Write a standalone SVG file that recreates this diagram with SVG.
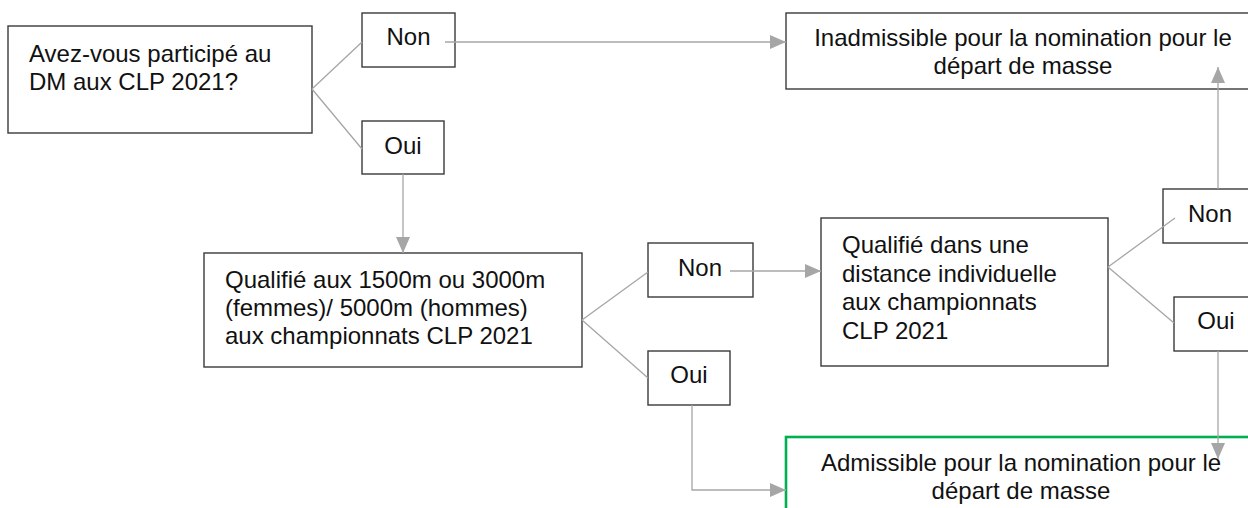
<svg xmlns="http://www.w3.org/2000/svg" width="1248" height="508" viewBox="0 0 1248 508">
<style>
.box{fill:#fff;stroke:#3a3a3a;stroke-width:1.4}
.ok{fill:#fff;stroke:#00b050;stroke-width:2.6}
.t{font-family:"Liberation Sans",Arial,sans-serif;font-size:24px;fill:#111}
.c{text-anchor:middle}
.ln{fill:none;stroke:#a6a6a6;stroke-width:1.3}
</style>
<defs>
<marker id="ar" markerUnits="userSpaceOnUse" markerWidth="16" markerHeight="14" refX="16" refY="7" orient="auto">
<path d="M0,0 L16,7 L0,14 z" fill="#a6a6a6"/>
</marker>
</defs>
<g id="q1"><rect class="box" x="8" y="26" width="304" height="107"/>
<text class="t" x="29" y="62">Avez-vous participé au</text>
<text class="t" x="29" y="90">DM aux CLP 2021?</text></g>
<g id="non1"><rect class="box" x="362" y="13" width="93" height="54"/>
<text class="t c" x="408.5" y="45">Non</text></g>
<g id="oui1"><rect class="box" x="362" y="121" width="82" height="53"/>
<text class="t c" x="403" y="154">Oui</text></g>
<g id="inadm"><rect class="box" x="786" y="13" width="474" height="76"/>
<text class="t c" x="1023" y="46">Inadmissible pour la nomination pour le</text>
<text class="t c" x="1023" y="74">départ de masse</text></g>
<g id="q2"><rect class="box" x="204" y="253" width="378" height="114"/>
<text class="t" x="225" y="288">Qualifié aux 1500m ou 3000m</text>
<text class="t" x="225" y="316">(femmes)/ 5000m (hommes)</text>
<text class="t" x="225" y="344">aux championnats CLP 2021</text></g>
<g id="non2"><rect class="box" x="648" y="243" width="105" height="54"/>
<text class="t c" x="700" y="276">Non</text></g>
<g id="oui2"><rect class="box" x="648" y="351" width="82" height="54"/>
<text class="t c" x="689" y="383">Oui</text></g>
<g id="q3"><rect class="box" x="821" y="218" width="287" height="148"/>
<text class="t" x="842" y="253">Qualifié dans une</text>
<text class="t" x="842" y="282">distance individuelle</text>
<text class="t" x="842" y="310">aux championnats</text>
<text class="t" x="842" y="339">CLP 2021</text></g>
<g id="non3"><rect class="box" x="1163" y="189" width="95" height="54"/>
<text class="t c" x="1210" y="222">Non</text></g>
<g id="oui3"><rect class="box" x="1174" y="297" width="82" height="54"/>
<text class="t c" x="1216" y="329">Oui</text></g>
<g id="adm"><rect class="ok" x="786" y="437" width="474" height="100"/>
<text class="t c" x="1021" y="471">Admissible pour la nomination pour le</text>
<text class="t c" x="1021" y="499">départ de masse</text></g>
<g id="connectors">
<path class="ln" d="M312,89 L362,42 M312,89 L362,149"/>
<path class="ln" d="M582,320 L648,272 M582,320 L648,378"/>
<path class="ln" d="M1108,267 L1175,218 M1108,267 L1174,323"/>
<path class="ln" d="M445,42 H786" marker-end="url(#ar)"/>
<path class="ln" d="M403,174 V253" marker-end="url(#ar)"/>
<path class="ln" d="M730,271 H821" marker-end="url(#ar)"/>
<path class="ln" d="M692,405 V490 H786" marker-end="url(#ar)"/>
<path class="ln" d="M1218,189 V67" marker-end="url(#ar)"/>
<path class="ln" d="M1218,351 V459" marker-end="url(#ar)"/>
</g>
</svg>
